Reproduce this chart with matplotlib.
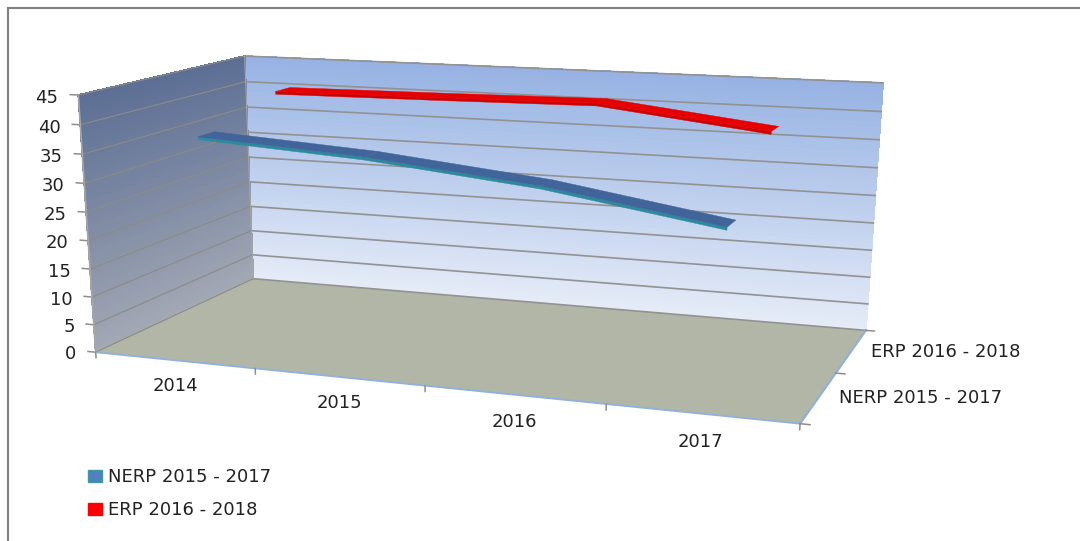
import numpy as np
import matplotlib
matplotlib.use("Agg")
import matplotlib.pyplot as plt
from matplotlib.colors import to_rgb
from matplotlib.lines import Line2D
from matplotlib.patches import Patch
from mpl_toolkits.mplot3d import proj3d
from mpl_toolkits.mplot3d.art3d import Poly3DCollection

plt.rcParams['font.family'] = ['DejaVu Sans']

categories = ['2014', '2015', '2016', '2017']
series_names = ['NERP 2015 - 2017', 'ERP 2016 - 2018']
nerp_values = [37, 35.2, 32.2, 27.5]
erp_values = [41, 41.3, 41.7, 38.3]
value_ticks = [0, 5, 10, 15, 20, 25, 30, 35, 40, 45]

X_MAX = len(categories)
Y_MAX = len(series_names)
Z_MAX = value_ticks[-1]

TEXT_COLOR = '#222222'
FONT_SIZE = 13

# where the box corners sit in the picture, (x, y, z) -> pixel
corners = [
    ((0, 0, 0), (96, 352)),
    ((0, 0, Z_MAX), (78, 95)),
    ((0, Y_MAX, Z_MAX), (245, 56)),
    ((0, Y_MAX, 0), (253, 279)),
    ((X_MAX, Y_MAX, Z_MAX), (883, 83)),
    ((X_MAX, Y_MAX, 0), (866, 330)),
    ((X_MAX, 0, 0), (800, 424)),
]


def fit_projection(pairs):
    """Least squares camera matrix from the corner pairs, as a 4x4 for Axes3D."""
    rows = []
    rhs = []
    for (x, y, z), (u, v) in pairs:
        rows.append([x, y, z, 1, 0, 0, 0, 0, -u * x, -u * y, -u * z])
        rhs.append(u)
        rows.append([0, 0, 0, 0, x, y, z, 1, -v * x, -v * y, -v * z])
        rhs.append(v)
    p = np.linalg.lstsq(np.array(rows, float), np.array(rhs, float), rcond=None)[0]
    top = np.array([p[:4], p[4:8], [p[8], p[9], p[10], 1.0]])
    depth = np.linalg.svd(top)[2][-1]
    return np.array([top[0], top[1], depth, top[2]])


def blend(c1, c2, t):
    return tuple(np.array(to_rgb(c1)) * (1 - t) + np.array(to_rgb(c2)) * t)


def wall_strips(make_quad, top_color, bottom_color, n=60):
    """Vertical gradient for a wall, drawn as thin bands."""
    edges = np.linspace(0, Z_MAX, n + 1)
    quads = [make_quad(edges[i], edges[i + 1]) for i in range(n)]
    colors = [blend(bottom_color, top_color, (i + 0.5) / n) for i in range(n)]
    return Poly3DCollection(quads, facecolors=colors, edgecolors=colors, linewidths=0.6,
                            antialiaseds=False)


def add_ribbon(ax, values, y_pos, top_color, side_color, half_depth=0.1, thick=0.5):
    xs = np.arange(len(values)) + 0.5
    front = []
    top = []
    for i in range(len(values) - 1):
        x0, x1, v0, v1 = xs[i], xs[i + 1], values[i], values[i + 1]
        front.append([(x0, y_pos - half_depth, v0), (x1, y_pos - half_depth, v1),
                      (x1, y_pos - half_depth, v1 - thick), (x0, y_pos - half_depth, v0 - thick)])
        top.append([(x0, y_pos - half_depth, v0), (x1, y_pos - half_depth, v1),
                    (x1, y_pos + half_depth, v1), (x0, y_pos + half_depth, v0)])
    side = Poly3DCollection(front, facecolors=side_color, edgecolors=side_color, linewidths=0.3)
    side.set_zorder(5 + y_pos)
    ax.add_collection3d(side)
    upper = Poly3DCollection(top, facecolors=top_color, edgecolors=top_color, linewidths=0.3)
    upper.set_zorder(5.1 + y_pos)
    ax.add_collection3d(upper)


def add_label(ax, x, y, z, text, ha):
    """Axis label at a chart position, as plain 2D text."""
    u, v, _ = proj3d.proj_transform(x, y, z, M)
    ax.annotate(text, (float(u), float(v)), ha=ha, va='center_baseline', fontsize=FONT_SIZE,
                color=TEXT_COLOR, annotation_clip=False)


fig = plt.figure(figsize=(10.8, 5.41), dpi=100)
ax = fig.add_axes([0, 0, 1, 1], projection='3d')
ax.set_axis_off()
ax.set_xticks([])
ax.set_yticks([])
ax.set_zticks([])
ax.computed_zorder = False
ax.set_proj_type('ortho')  # perspective mode masks lines outside -1..1

# use the fitted camera instead of the mplot3d one, 2D limits are then pixels
M = fit_projection(corners)
ax.get_proj = lambda: M
ax.apply_aspect = lambda position=None: None
ax.viewLim.intervalx = (0, 1080)
ax.viewLim.intervaly = (541, 0)

# walls and floor
back = wall_strips(lambda a, b: [(0, Y_MAX, a), (X_MAX, Y_MAX, a), (X_MAX, Y_MAX, b), (0, Y_MAX, b)],
                   '#97b3e3', '#e6ecf8')
back.set_zorder(1)
ax.add_collection3d(back)
left = wall_strips(lambda a, b: [(0, 0, a), (0, Y_MAX, a), (0, Y_MAX, b), (0, 0, b)],
                   '#5d6f95', '#a3a8b4')
left.set_zorder(1)
ax.add_collection3d(left)
floor = Poly3DCollection([[(0, 0, 0), (X_MAX, 0, 0), (X_MAX, Y_MAX, 0), (0, Y_MAX, 0)]],
                         facecolors='#b2b6a6', edgecolors='none')
floor.set_zorder(1.5)
ax.add_collection3d(floor)

# gridlines
for v in value_ticks:
    ax.plot([0, X_MAX], [Y_MAX, Y_MAX], [v, v], color='#929292', lw=1.2, zorder=2)
    ax.plot([0, 0], [0, Y_MAX], [v, v], color='#8c8b84', lw=0.8, zorder=2)
    ax.plot([-0.05, 0], [0, 0], [v, v], color='#8e8e8e', lw=1.1, zorder=2)
    add_label(ax, -0.125, 0, v - 0.4, str(v), 'right')

ax.plot([0, 0], [0, 0], [0, Z_MAX], color='#a6a6a6', lw=1.2, zorder=3)
ax.plot([0, 0], [Y_MAX, Y_MAX], [0, Z_MAX], color='#a6a6a6', lw=0.8, zorder=3)

# floor edges and ticks
ax.plot([0, X_MAX], [0, 0], [0, 0], color='#8fb1da', lw=1.3, zorder=3)
ax.plot([X_MAX, X_MAX], [0, Y_MAX], [0, 0], color='#8fb1da', lw=1.6, zorder=3)
for i in range(X_MAX + 1):
    ax.plot([i, i], [0, 0], [0, -1.0], color='#8e8e8e', lw=1.1, zorder=3)
for j in range(Y_MAX + 1):
    ax.plot([X_MAX, X_MAX + 0.05], [j, j], [0, 0], color='#8e8e8e', lw=1.1, zorder=3)

for i, label in enumerate(categories):
    add_label(ax, i + 0.5, 0, -4.3, label, 'center')

add_label(ax, X_MAX + 0.105, 0.5, 0.5, series_names[0], 'left')
add_label(ax, X_MAX + 0.11, 1.5, 0.5, series_names[1], 'left')

# the two series
add_ribbon(ax, nerp_values, 0.5, '#41659b', '#2b8b9d')
add_ribbon(ax, erp_values, 1.5, '#e60000', '#d00000')

handles = [Patch(facecolor='#4f81bd', edgecolor='#3f97a8', label=series_names[0]),
           Patch(facecolor='#ff0000', edgecolor='#ff0000', label=series_names[1])]
fig.legend(handles=handles, loc='upper left', bbox_to_anchor=(0.0815, 0.135), frameon=False,
           fontsize=FONT_SIZE, labelcolor=TEXT_COLOR, handlelength=0.8, handleheight=0.65,
           handletextpad=0.33, labelspacing=0.85, borderpad=0, borderaxespad=0)

# outer frame, only top and left show
fig.add_artist(Line2D([8 / 1080, 1], [1 - 8 / 541, 1 - 8 / 541], color='#808080', lw=1.5))
fig.add_artist(Line2D([8 / 1080, 8 / 1080], [0, 1 - 8 / 541], color='#808080', lw=1.5))

fig.savefig('out.png', dpi=100)
